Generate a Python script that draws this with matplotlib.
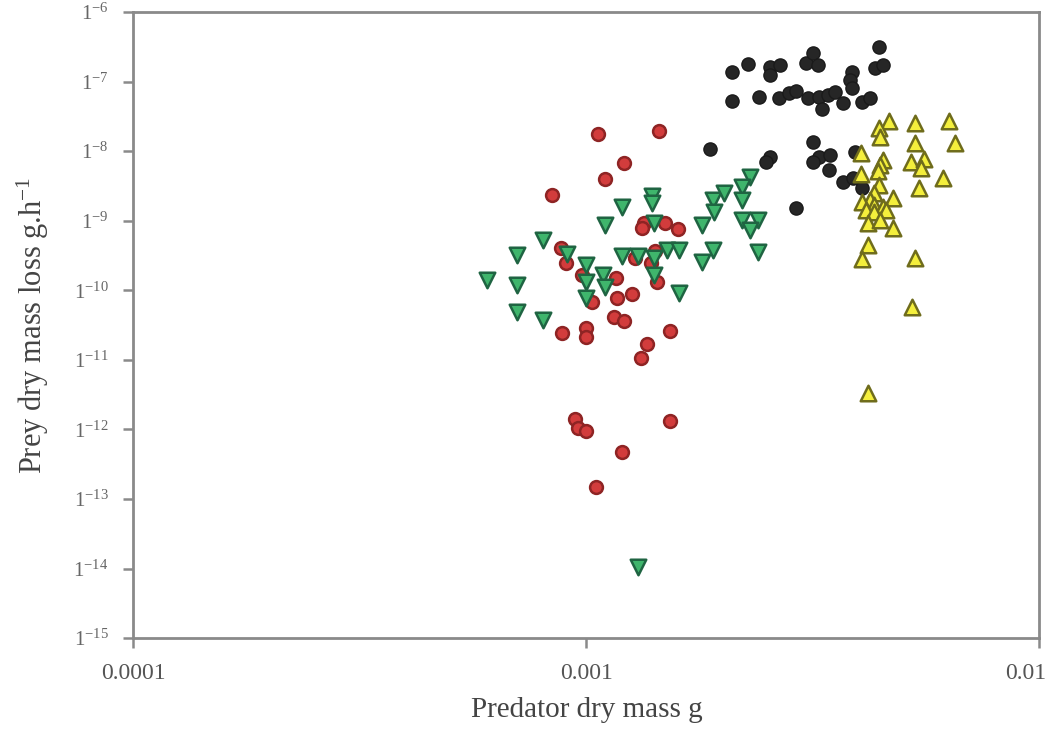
import numpy as np
import matplotlib
matplotlib.use("Agg")
import matplotlib.pyplot as plt
import matplotlib.transforms as mtransforms

plt.rcParams['font.family'] = ['Liberation Serif', 'DejaVu Serif']
plt.rcParams['mathtext.default'] = 'regular'

# predator dry mass (g) / prey dry mass loss (g/h), four predator groups
black_x = [0.00210, 0.00228, 0.00255, 0.00268, 0.00255, 0.00305, 0.00316, 0.00324,
           0.00442, 0.00435, 0.00453, 0.00387, 0.00383, 0.00387, 0.00210, 0.00241,
           0.00266, 0.00280, 0.00290, 0.00309, 0.00326, 0.00341, 0.00355, 0.00368,
           0.00332, 0.00407, 0.00424, 0.00188, 0.00255, 0.00249, 0.00317, 0.00326,
           0.00346, 0.00343, 0.00316, 0.00368, 0.00389, 0.00407, 0.00290, 0.00393]
black_y = [1.37e-7, 1.79e-7, 1.62e-7, 1.73e-7, 1.24e-7, 1.85e-7, 2.57e-7, 1.73e-7,
           3.14e-7, 1.57e-7, 1.73e-7, 1.37e-7, 1.05e-7, 8.08e-8, 5.25e-8, 6.00e-8,
           5.80e-8, 6.85e-8, 7.32e-8, 5.80e-8, 6.00e-8, 6.41e-8, 7.08e-8, 4.92e-8,
           4.03e-8, 5.08e-8, 5.80e-8, 1.07e-8, 8.23e-9, 6.98e-9, 1.35e-8, 8.23e-9,
           8.79e-9, 5.35e-9, 6.98e-9, 3.60e-9, 4.11e-9, 2.95e-9, 1.52e-9, 9.71e-9]

red_x = [0.00106, 0.00145, 0.00121, 0.00110, 0.000841, 0.00134, 0.00133, 0.00149,
         0.00159, 0.000881, 0.000903, 0.00142, 0.00139, 0.00128, 0.00116, 0.00098,
         0.00143, 0.00117, 0.00126, 0.00103, 0.00115, 0.00121, 0.000885, 0.00100,
         0.00100, 0.00136, 0.00132, 0.00153, 0.000946, 0.00096, 0.00100, 0.00120,
         0.00105, 0.00153]
red_y = [1.76e-8, 1.95e-8, 6.75e-9, 3.97e-9, 2.34e-9, 9.26e-10, 7.85e-10, 9.26e-10,
         7.59e-10, 4.05e-10, 2.46e-10, 3.67e-10, 2.46e-10, 2.91e-10, 1.50e-10, 1.66e-10,
         1.31e-10, 7.73e-11, 8.83e-11, 6.78e-11, 4.12e-11, 3.61e-11, 2.43e-11, 2.87e-11,
         2.13e-11, 1.69e-11, 1.06e-11, 2.59e-11, 1.41e-12, 1.05e-12, 9.47e-13, 4.73e-13,
         1.48e-13, 1.32e-12]

green_x = [0.00140, 0.00140, 0.00120, 0.00110, 0.00141, 0.000803, 0.000704, 0.000908,
           0.00120, 0.00130, 0.00151, 0.00160, 0.00141, 0.00100, 0.00109, 0.00110,
           0.00100, 0.00100, 0.00141, 0.00160, 0.00190, 0.00191, 0.00180, 0.00190,
           0.00180, 0.000604, 0.000704, 0.000704, 0.000803, 0.00230, 0.00221, 0.00221,
           0.00201, 0.00221, 0.00240, 0.00230, 0.00240, 0.00130]
green_y = [2.26e-9, 1.80e-9, 1.57e-9, 8.67e-10, 9.26e-10, 5.28e-10, 3.21e-10, 3.32e-10,
           3.11e-10, 3.11e-10, 3.79e-10, 3.79e-10, 2.91e-10, 2.31e-10, 1.66e-10, 1.11e-10,
           1.31e-10, 7.73e-11, 1.66e-10, 9.13e-11, 1.98e-9, 1.33e-9, 8.67e-10, 3.79e-10,
           2.55e-10, 1.40e-10, 1.19e-10, 4.87e-11, 3.73e-11, 4.25e-9, 3.05e-9, 1.98e-9,
           2.50e-9, 1.02e-9, 1.02e-9, 7.35e-10, 3.55e-10, 1.05e-14]

yellow_x = [0.00465, 0.00442, 0.00446, 0.00531, 0.00631, 0.00531, 0.00651, 0.00405,
            0.00453, 0.00446, 0.00440, 0.00520, 0.00556, 0.00547, 0.00612, 0.00405,
            0.00442, 0.00542, 0.00475, 0.00431, 0.00424, 0.00407, 0.00431, 0.00453,
            0.00414, 0.00431, 0.00458, 0.00418, 0.00446, 0.00475, 0.00418, 0.00407,
            0.00533, 0.00525, 0.00418]
yellow_y = [2.71e-8, 2.15e-8, 1.60e-8, 2.54e-8, 2.71e-8, 1.31e-8, 1.31e-8, 9.40e-9,
            7.45e-9, 6.32e-9, 5.18e-9, 6.98e-9, 7.70e-9, 5.72e-9, 4.11e-9, 4.69e-9,
            3.26e-9, 2.95e-9, 2.12e-9, 2.50e-9, 1.98e-9, 1.86e-9, 1.68e-9, 1.57e-9,
            1.42e-9, 1.33e-9, 1.42e-9, 9.26e-10, 1.02e-9, 7.85e-10, 4.47e-10, 2.81e-10,
            2.91e-10, 5.74e-11, 3.33e-12]

x_ticks = [0.0001, 0.001, 0.01]
x_labels = ['0.0001', '0.001', '0.01']
y_exps = list(range(-15, -5))

fig = plt.figure(figsize=(10.55, 7.49), dpi=100)
ax = fig.add_axes([0.1265, 0.148, 0.8585, 0.836])

ax.scatter(black_x, black_y, s=90, marker='o', color='#262626', edgecolors='#1a1a1a',
           linewidths=1, zorder=3)
ax.scatter(red_x, red_y, s=85, marker='o', color='#d23c3c', edgecolors='#8e2424',
           linewidths=1.8, zorder=3)
ax.scatter(green_x, green_y, s=125, marker='v', color='#3fb56c', edgecolors='#1f6442',
           linewidths=1.8, zorder=4)
ax.scatter(yellow_x, yellow_y, s=125, marker='^', color='#f4ef3c', edgecolors='#6f6c1c',
           linewidths=1.8, zorder=5)

ax.set_xscale('log')
ax.set_yscale('log')
ax.set_xlim(1e-4, 1e-2)
ax.set_ylim(1e-15, 1e-6)

ax.set_xticks(x_ticks)
ax.set_xticklabels(x_labels)
ax.set_yticks([10.0 ** e for e in y_exps])
ax.set_yticklabels(['1$^{%d}$' % e for e in y_exps])
ax.minorticks_off()

for sp in ax.spines.values():
    sp.set_color('#8a8a8a')
    sp.set_linewidth(2)
ax.tick_params(axis='both', direction='out', length=7, width=1.8, color='#8a8a8a')
ax.tick_params(axis='x', labelsize=17, labelcolor='#555555', pad=11)
ax.tick_params(axis='y', labelsize=15, labelcolor='#666666', pad=11)

# keep the last x label inside the figure edge
last = ax.get_xticklabels()[-1]
last.set_transform(last.get_transform() +
                   mtransforms.ScaledTranslation(-10 / 72, 0, fig.dpi_scale_trans))

ax.set_xlabel('Predator dry mass g', fontsize=21, color='#444444', labelpad=9)
ax.set_ylabel('Prey dry mass loss g.h$^{-1}$', fontsize=22, color='#444444', labelpad=16)

fig.savefig('out.png', dpi=100)
